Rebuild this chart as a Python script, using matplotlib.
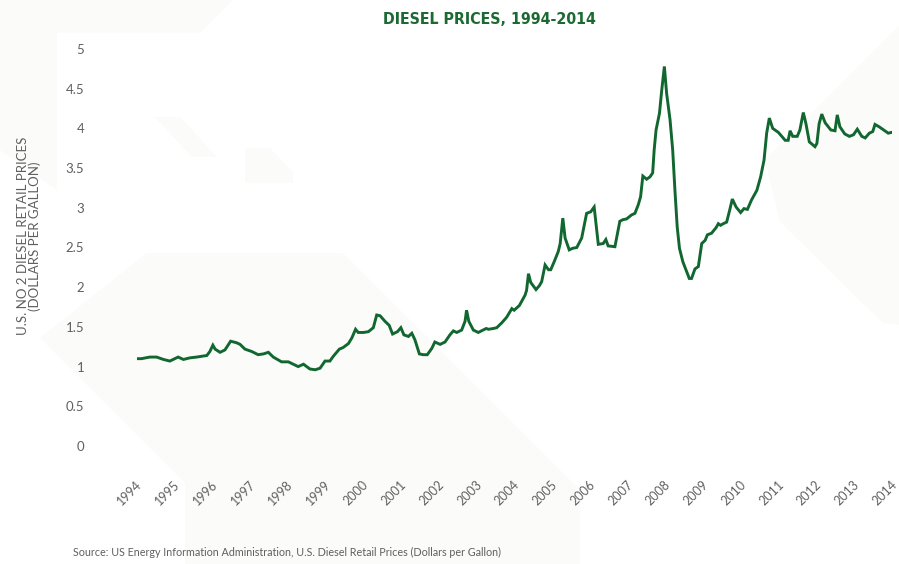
import matplotlib.pyplot as plt
from matplotlib import font_manager
from matplotlib.patches import Polygon
from matplotlib.transforms import ScaledTranslation

# monthly-ish readings of the price curve (year, $/gal)
years = [1994.00, 1994.12, 1994.34, 1994.52, 1994.70, 1994.87, 1995.09, 1995.23, 1995.40, 1995.58,
         1995.71, 1995.85, 1995.93, 1996.01, 1996.07, 1996.20, 1996.33, 1996.48, 1996.64, 1996.73,
         1996.86, 1997.04, 1997.21, 1997.35, 1997.48, 1997.61, 1997.83, 1998.01, 1998.14, 1998.27,
         1998.41, 1998.58, 1998.72, 1998.85, 1998.98, 1999.11, 1999.20, 1999.36, 1999.46, 1999.60,
         1999.69, 1999.79, 1999.86, 2000.00, 2000.13, 2000.26, 2000.35, 2000.44, 2000.57, 2000.68,
         2000.77, 2000.90, 2000.99, 2001.07, 2001.19, 2001.28, 2001.36, 2001.48, 2001.58, 2001.69,
         2001.81, 2001.89, 2002.03, 2002.16, 2002.29, 2002.38, 2002.47, 2002.60, 2002.69, 2002.73,
         2002.79, 2002.91, 2003.04, 2003.17, 2003.25, 2003.31, 2003.44, 2003.53, 2003.66, 2003.79,
         2003.93, 2003.99, 2004.13, 2004.28, 2004.32, 2004.37, 2004.43, 2004.57, 2004.66, 2004.72,
         2004.81, 2004.90, 2004.96, 2005.05, 2005.16, 2005.21, 2005.28, 2005.34, 2005.45, 2005.54,
         2005.65, 2005.78, 2005.91, 2006.02, 2006.11, 2006.22, 2006.35, 2006.42, 2006.48, 2006.66,
         2006.79, 2006.87, 2006.97, 2007.10, 2007.19, 2007.28, 2007.34, 2007.40, 2007.50, 2007.59,
         2007.66, 2007.70, 2007.75, 2007.84, 2007.90, 2007.97, 2008.03, 2008.12, 2008.19, 2008.25,
         2008.31, 2008.37, 2008.46, 2008.54, 2008.63, 2008.69, 2008.78, 2008.87, 2008.96, 2009.05,
         2009.11, 2009.22, 2009.34, 2009.40, 2009.46, 2009.53, 2009.62, 2009.70, 2009.77, 2009.87,
         2009.99, 2010.08, 2010.17, 2010.28, 2010.42, 2010.52, 2010.61, 2010.68, 2010.75, 2010.84,
         2010.99, 2011.17, 2011.25, 2011.30, 2011.37, 2011.49, 2011.56, 2011.65, 2011.72, 2011.81,
         2011.96, 2012.01, 2012.07, 2012.14, 2012.23, 2012.38, 2012.49, 2012.55, 2012.62, 2012.75,
         2012.87, 2012.98, 2013.08, 2013.20, 2013.29, 2013.40, 2013.49, 2013.55, 2013.66, 2013.81,
         2013.90, 2013.99]
prices = [1.10, 1.10, 1.12, 1.12, 1.09, 1.07, 1.12, 1.09, 1.11, 1.12,
          1.13, 1.14, 1.19, 1.27, 1.22, 1.18, 1.21, 1.32, 1.30, 1.28,
          1.22, 1.19, 1.15, 1.16, 1.18, 1.12, 1.06, 1.06, 1.03, 1.00,
          1.03, 0.97, 0.96, 0.98, 1.07, 1.07, 1.13, 1.22, 1.24, 1.29,
          1.36, 1.47, 1.43, 1.43, 1.44, 1.49, 1.65, 1.64, 1.57, 1.52,
          1.41, 1.44, 1.49, 1.40, 1.38, 1.42, 1.34, 1.16, 1.15, 1.15,
          1.23, 1.31, 1.28, 1.31, 1.40, 1.45, 1.43, 1.46, 1.57, 1.71,
          1.57, 1.46, 1.43, 1.46, 1.48, 1.47, 1.48, 1.49, 1.55, 1.62,
          1.73, 1.71, 1.77, 1.90, 1.96, 2.17, 2.06, 1.97, 2.02, 2.07,
          2.28, 2.22, 2.22, 2.32, 2.45, 2.55, 2.87, 2.62, 2.47, 2.49,
          2.50, 2.62, 2.93, 2.95, 3.01, 2.54, 2.55, 2.60, 2.52, 2.51,
          2.83, 2.85, 2.86, 2.91, 2.93, 3.04, 3.14, 3.40, 3.36, 3.39,
          3.44, 3.73, 3.98, 4.19, 4.48, 4.78, 4.44, 4.11, 3.73, 3.22,
          2.76, 2.49, 2.32, 2.22, 2.11, 2.11, 2.23, 2.26, 2.55, 2.59,
          2.66, 2.68, 2.75, 2.80, 2.78, 2.80, 2.82, 2.97, 3.11, 3.01,
          2.94, 2.99, 2.98, 3.10, 3.22, 3.39, 3.60, 3.94, 4.13, 4.00,
          3.95, 3.85, 3.85, 3.97, 3.90, 3.90, 3.98, 4.20, 4.06, 3.83,
          3.77, 3.81, 4.06, 4.18, 4.07, 3.98, 3.97, 4.17, 4.02, 3.93,
          3.90, 3.92, 3.99, 3.90, 3.88, 3.94, 3.96, 4.05, 4.02, 3.97,
          3.94, 3.95]

tick_years = list(range(1994, 2015))
y_ticks = [0, 0.5, 1, 1.5, 2, 2.5, 3, 3.5, 4, 4.5, 5]

green = "#11672f"
grey = "#606060"
W, H = 899, 564

# pick a narrow face for the title if one is installed
names = {f.name for f in font_manager.fontManager.ttflist}
condensed = [f for f in font_manager.fontManager.ttflist
             if f.name == "DejaVu Sans" and "condensed" in str(f.stretch).lower()]
if "Liberation Sans Narrow" in names:
    title_font = dict(family="Liberation Sans Narrow")
elif condensed:
    title_font = dict(family="DejaVu Sans", fontstretch="condensed")
else:
    title_font = dict(family="Roboto")

fig = plt.figure(figsize=(W / 100, H / 100), dpi=100)
fig.patch.set_facecolor("white")

# faint watermark shapes in the background (pixel coordinates)
shapes = [
    [(0, 0), (233, 0), (200, 33), (57, 33), (57, 190), (0, 150)],
    [(155, 117), (180, 117), (217, 157), (192, 157)],
    [(245, 148), (270, 148), (293, 172), (293, 183), (245, 183)],
    [(147, 253), (343, 253), (580, 490), (580, 564), (185, 564), (185, 483), (40, 338)],
    [(899, 26), (765, 160), (780, 222), (883, 323), (899, 325)],
]
for pts in shapes:
    fig.add_artist(Polygon([(x / W, 1 - y / H) for x, y in pts], closed=True,
                           transform=fig.transFigure, facecolor="#fbfbf9",
                           edgecolor="none", zorder=-5))

ax = fig.add_axes([137 / W, 118 / H, 755 / W, 397 / H])
ax.patch.set_alpha(0)
ax.plot(years, prices, color=green, linewidth=2.1, solid_joinstyle="miter")

ax.set_xlim(1994, 2014)
ax.set_ylim(0, 5)
for s in ax.spines.values():
    s.set_visible(False)

ax.set_yticks(y_ticks)
ax.set_yticklabels([f"{v:g}" for v in y_ticks])
ax.tick_params(axis="y", length=0, pad=38, labelsize=9.5, labelcolor=grey)
for lab in ax.get_yticklabels():
    lab.set_fontfamily("Lato")

ax.set_xticks(tick_years)
ax.set_xticklabels([str(y) for y in tick_years], rotation=45, ha="right",
                   va="center", rotation_mode="anchor")
ax.tick_params(axis="x", length=0, pad=26.5, labelsize=9, labelcolor=grey)
shift = ScaledTranslation(3 / 100, 0, fig.dpi_scale_trans)
for lab in ax.get_xticklabels():
    lab.set_fontfamily("Lato")
    lab.set_transform(lab.get_transform() + shift)

title = fig.text(489 / W, 1 - 20 / H, "DIESEL PRICES, 1994-2014", ha="center", va="center",
                 fontweight="bold", color="#1b6a33", fontsize=14, **title_font)
# scale the title so it spans about 215 px like the original
renderer = fig.canvas.get_renderer()
w = title.get_window_extent(renderer).width
title.set_fontsize(14 * 215 / w)

fig.text(29 / W, 1 - 236 / H, "U.S. NO 2 DIESEL RETAIL PRICES\n(DOLLARS PER GALLON)",
         rotation=90, ha="center", va="center", multialignment="center",
         fontsize=9.5, color=grey, family="Lato", linespacing=0.95)

fig.text(73 / W, 1 - 552 / H,
         "Source: US Energy Information Administration, U.S. Diesel Retail Prices (Dollars per Gallon)",
         ha="left", va="center", fontsize=7.75, color=grey, family="Lato")

fig.savefig("out.png", dpi=100, facecolor="white")
